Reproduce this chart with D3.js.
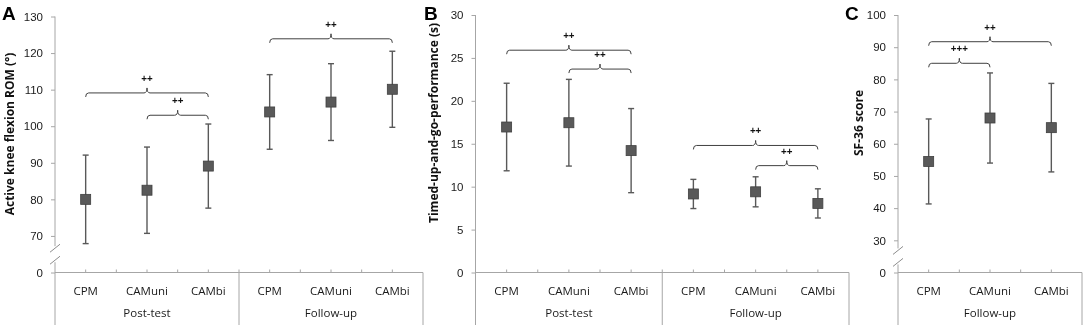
<!DOCTYPE html>
<html lang="en">
<head>
<meta charset="utf-8">
<title>Outcome measures</title>
<script src="https://cdn.jsdelivr.net/npm/d3@7"></script>
<style>
  body { margin: 0; background: #fff; }
  svg { display: block; font-family: "Open Sans", sans-serif; will-change: transform; }
  .axis path, .axis line { stroke: #a6a6a6; }
  .axis text { font-size: 11.5px; fill: #1a1a1a; }
</style>
</head>
<body>
<svg id="chart" width="1084" height="325"></svg>
<script>
// categories
var groups = ["Post-test", "Follow-up"];
var arms = ["CPM", "CAMuni", "CAMbi"];

// panel A: active knee flexion ROM (deg), mean and SD
var romMean = [80.0, 82.5, 89.1, 103.9, 106.6, 110.1];
var romSD = [12.1, 11.8, 11.5, 10.2, 10.5, 10.4];
var romTicks = [60, 70, 80, 90, 100, 110, 120, 130];
var romBrackets = [
  {from: 0, to: 2, level: 109.1, label: "++"},
  {from: 1, to: 2, level: 103.0, label: "++"},
  {from: 3, to: 5, level: 123.9, label: "++"}
];

// panel B: timed-up-and-go (s)
var tugMean = [16.95, 17.45, 14.2, 9.15, 9.4, 8.05];
var tugSD = [5.1, 5.05, 4.9, 1.7, 1.75, 1.7];
var tugTicks = [0, 5, 10, 15, 20, 25, 30];
var tugBrackets = [
  {from: 0, to: 2, level: 25.9, label: "++"},
  {from: 1, to: 2, level: 23.7, label: "++"},
  {from: 3, to: 5, level: 14.8, label: "++"},
  {from: 4, to: 5, level: 12.45, label: "++"}
];

// panel C: SF-36 score, follow-up only
var sfMean = [54.5, 68.0, 65.0];
var sfSD = [13.2, 14.0, 13.75];
var sfTicks = [20, 30, 40, 50, 60, 70, 80, 90, 100];
var sfBrackets = [
  {from: 0, to: 2, level: 91.7, label: "++"},
  {from: 0, to: 1, level: 85.0, label: "+++"}
];

var svg = d3.select("#chart");
var axisY = 272.5, bottomY = 325;
var markColor = "#595959";

function drawPanel(p) {
  var g = svg.append("g");
  var n = p.mean.length;

  var x = d3.scaleBand().domain(d3.range(n)).range([p.x0, p.x1]);
  var y = d3.scaleLinear().domain(p.domain).range([axisY, p.top]);
  var cx = function(i) { return x(i) + x.bandwidth() / 2; };

  // y axis ticks and labels
  var yAxis = d3.axisLeft(y)
    .tickValues(p.ticks)
    .tickSize(4)
    .tickPadding(8)
    .tickFormat(function(d) { return d === p.domain[0] ? "0" : d; });
  var ya = g.append("g").attr("class", "axis")
    .attr("transform", "translate(" + p.x0 + ",0)")
    .call(yAxis);
  ya.select(".domain").remove();

  // vertical axis line, broken when the scale does not start at 0
  if (p.broken) {
    var lastTick = y(p.ticks[1]);
    var mid = (lastTick + axisY) / 2;
    var b1 = mid - 6, b2 = mid + 6;
    g.append("line").attr("x1", p.x0).attr("x2", p.x0).attr("y1", p.top).attr("y2", b1 - 2)
      .attr("stroke", "#a6a6a6");
    g.append("line").attr("x1", p.x0).attr("x2", p.x0).attr("y1", b2 + 2).attr("y2", bottomY)
      .attr("stroke", "#a6a6a6");
    [b1, b2].forEach(function(b) {
      g.append("line")
        .attr("x1", p.x0 - 5).attr("y1", b + 4)
        .attr("x2", p.x0 + 5).attr("y2", b - 4)
        .attr("stroke", "#8c8c8c");
    });
  } else {
    g.append("line").attr("x1", p.x0).attr("x2", p.x0).attr("y1", p.top).attr("y2", bottomY)
      .attr("stroke", "#a6a6a6");
  }

  // horizontal axis
  g.append("line").attr("x1", p.x0).attr("x2", p.x1).attr("y1", axisY).attr("y2", axisY)
    .attr("stroke", "#a6a6a6");

  // little ticks at centres and between categories
  var tickXs = [];
  for (var i = 0; i < n; i++) {
    tickXs.push(cx(i));
    if (i > 0) tickXs.push(x(i));
  }
  g.selectAll(".xt").data(tickXs).enter().append("line")
    .attr("x1", function(d) { return d; }).attr("x2", function(d) { return d; })
    .attr("y1", axisY - 3).attr("y2", axisY)
    .attr("stroke", "#a6a6a6");

  // group separators down to the bottom
  var per = arms.length;
  var groupCount = n / per;
  for (var k = 1; k <= groupCount; k++) {
    var gx = x(0) + x.bandwidth() * per * k;
    g.append("line").attr("x1", gx).attr("x2", gx).attr("y1", axisY).attr("y2", bottomY)
      .attr("stroke", "#a6a6a6");
  }

  // category and group labels
  g.selectAll(".cat").data(d3.range(n)).enter().append("text")
    .attr("x", cx).attr("y", 295)
    .attr("text-anchor", "middle")
    .style("font-size", "11.5px").attr("fill", "#1a1a1a")
    .text(function(i) { return arms[i % per]; });
  g.selectAll(".grp").data(p.groups).enter().append("text")
    .attr("x", function(d, k) { return x(0) + x.bandwidth() * per * (k + 0.5); })
    .attr("y", 317)
    .attr("text-anchor", "middle")
    .style("font-size", "11.5px").attr("fill", "#1a1a1a")
    .text(function(d) { return d; });

  // error bars
  var eb = g.selectAll(".eb").data(d3.range(n)).enter().append("g")
    .attr("stroke", markColor).attr("stroke-width", 1.4);
  eb.append("line")
    .attr("x1", cx).attr("x2", cx)
    .attr("y1", function(i) { return y(p.mean[i] + p.sd[i]); })
    .attr("y2", function(i) { return y(p.mean[i] - p.sd[i]); });
  [1, -1].forEach(function(s) {
    eb.append("line")
      .attr("x1", function(i) { return cx(i) - 3; })
      .attr("x2", function(i) { return cx(i) + 3; })
      .attr("y1", function(i) { return y(p.mean[i] + s * p.sd[i]); })
      .attr("y2", function(i) { return y(p.mean[i] + s * p.sd[i]); });
  });

  // square markers
  g.selectAll(".pt").data(d3.range(n)).enter().append("rect")
    .attr("x", function(i) { return cx(i) - 5; })
    .attr("y", function(i) { return y(p.mean[i]) - 5; })
    .attr("width", 10).attr("height", 10)
    .attr("fill", markColor).attr("stroke", "#404040").attr("stroke-width", 0.8);

  // significance brackets
  p.brackets.forEach(function(b) {
    var xl = cx(b.from), xr = cx(b.to), xm = (xl + xr) / 2, y0 = y(b.level);
    var path = "M" + xl + "," + (y0 + 4) +
      "Q" + xl + "," + y0 + " " + (xl + 3) + "," + y0 +
      "L" + (xm - 3) + "," + y0 +
      "Q" + xm + "," + y0 + " " + xm + "," + (y0 - 5) +
      "Q" + xm + "," + y0 + " " + (xm + 3) + "," + y0 +
      "L" + (xr - 3) + "," + y0 +
      "Q" + xr + "," + y0 + " " + xr + "," + (y0 + 4);
    g.append("path").attr("d", path).attr("fill", "none")
      .attr("stroke", "#404040").attr("stroke-width", 1);
    g.append("text").attr("x", xm).attr("y", y0 - 11)
      .attr("text-anchor", "middle")
      .style("font-size", "10px").style("font-weight", "bold")
      .attr("fill", "#111")
      .text(b.label);
  });

  // y axis title
  g.append("text")
    .attr("transform", "translate(" + p.titleX + "," + p.titleY + ") rotate(-90)")
    .attr("text-anchor", "middle")
    .attr("dominant-baseline", "central")
    .style("font-size", "12px").style("font-weight", "bold")
    .attr("fill", "#111")
    .text(p.title);

  // panel letter
  g.append("text")
    .attr("x", p.letterX).attr("y", 20)
    .style("font-family", "'Liberation Sans', Arial, sans-serif")
    .style("font-size", "19px").style("font-weight", "bold")
    .text(p.letter);
}

drawPanel({
  letter: "A", letterX: 2,
  x0: 55, x1: 423, top: 16.5,
  domain: [60, 130], ticks: romTicks, broken: true,
  mean: romMean, sd: romSD, brackets: romBrackets, groups: groups,
  title: "Active knee flexion ROM (°)", titleX: 9, titleY: 134
});

drawPanel({
  letter: "B", letterX: 424,
  x0: 475.5, x1: 849, top: 15,
  domain: [0, 30], ticks: tugTicks, broken: false,
  mean: tugMean, sd: tugSD, brackets: tugBrackets, groups: groups,
  title: "Timed-up-and-go-performance (s)", titleX: 433, titleY: 123
});

drawPanel({
  letter: "C", letterX: 845,
  x0: 898, x1: 1082, top: 15,
  domain: [20, 100], ticks: sfTicks, broken: true,
  mean: sfMean, sd: sfSD, brackets: sfBrackets, groups: ["Follow-up"],
  title: "SF-36 score", titleX: 858, titleY: 123
});
</script>
</body>
</html>
